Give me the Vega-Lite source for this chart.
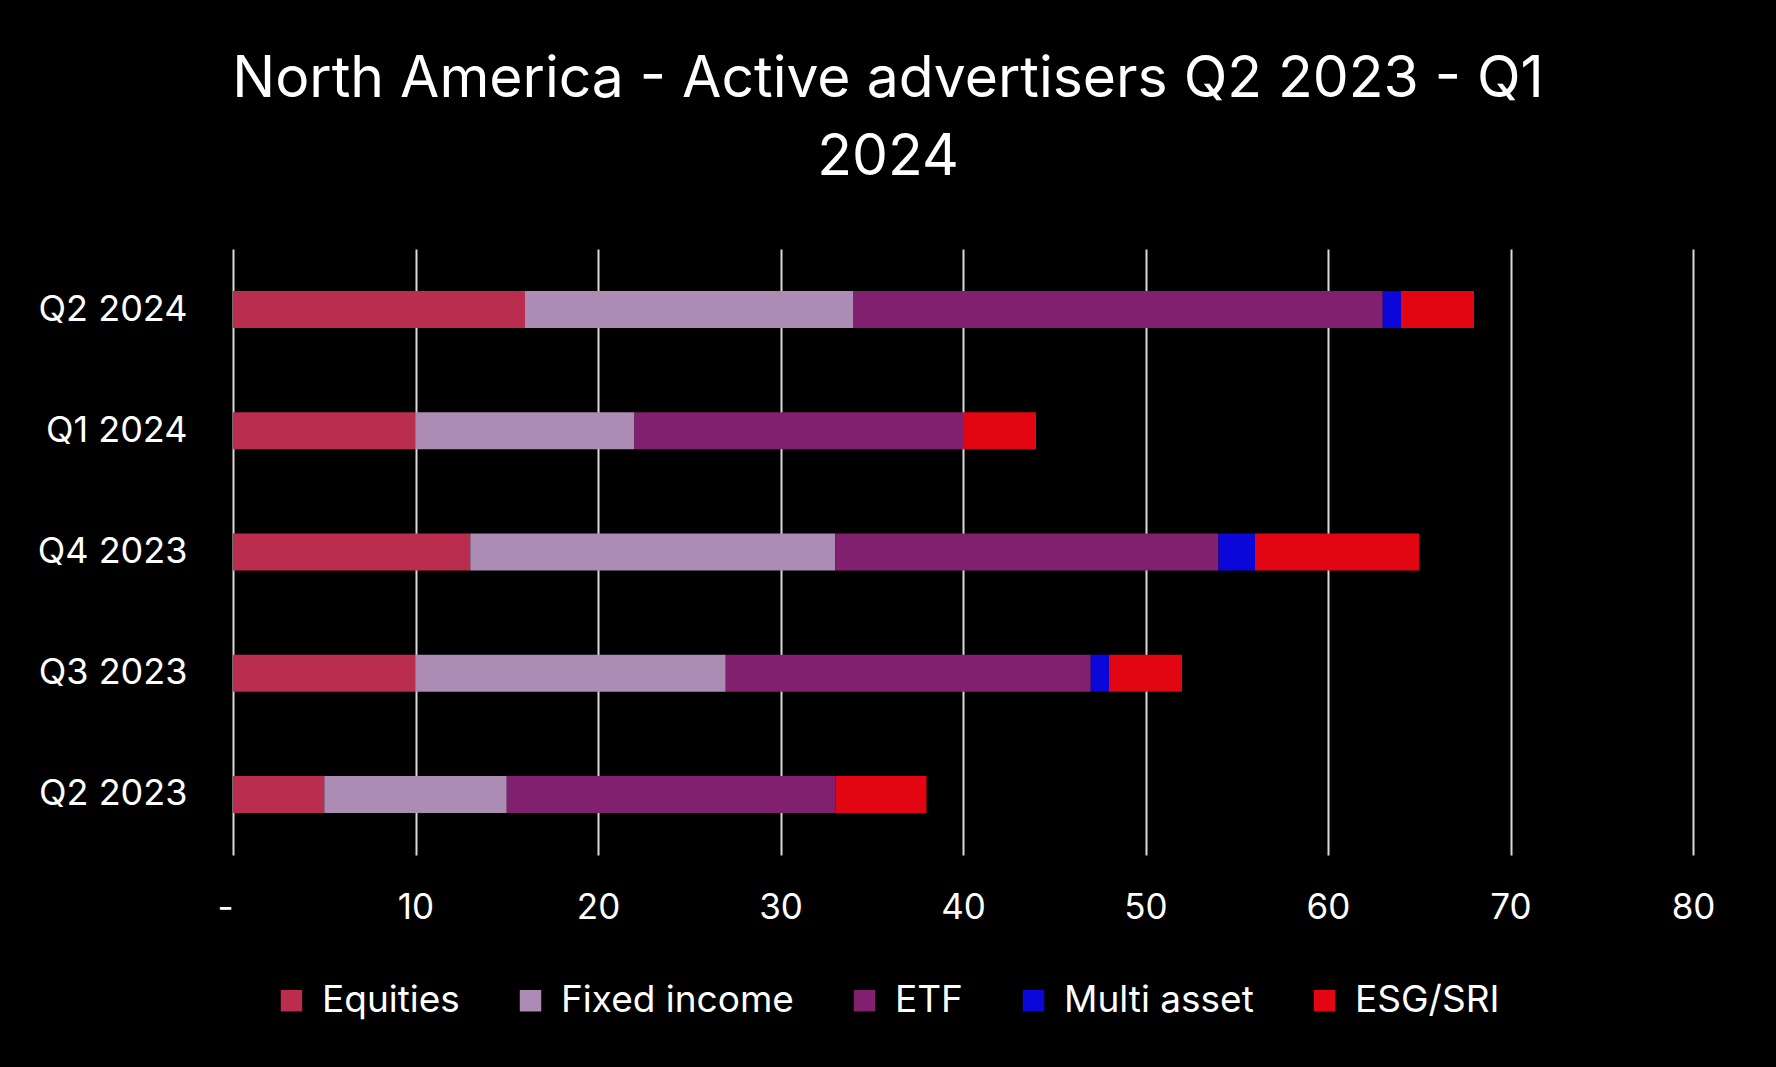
{
  "$schema": "https://vega.github.io/schema/vega-lite/v6.json",
  "width": 1460,
  "height": 606,
  "autosize": "none",
  "padding": {"left": 233, "top": 249, "right": 83, "bottom": 212},
  "background": "#000000",
  "title": {
    "text": ["North America - Active advertisers Q2 2023 - Q1", "2024"],
    "color": "#ffffff",
    "font": "Inter",
    "fontSize": 57,
    "fontWeight": "normal",
    "lineHeight": 78,
    "anchor": "middle",
    "frame": "group",
    "dx": -75,
    "offset": 62
  },
  "data": {
    "values": [
      {"quarter": "Q2 2024", "asset": "Equities", "k": 1, "value": 16},
      {"quarter": "Q2 2024", "asset": "Fixed income", "k": 2, "value": 18},
      {"quarter": "Q2 2024", "asset": "ETF", "k": 3, "value": 29},
      {"quarter": "Q2 2024", "asset": "Multi asset", "k": 4, "value": 1},
      {"quarter": "Q2 2024", "asset": "ESG/SRI", "k": 5, "value": 4},
      {"quarter": "Q1 2024", "asset": "Equities", "k": 1, "value": 10},
      {"quarter": "Q1 2024", "asset": "Fixed income", "k": 2, "value": 12},
      {"quarter": "Q1 2024", "asset": "ETF", "k": 3, "value": 18},
      {"quarter": "Q1 2024", "asset": "Multi asset", "k": 4, "value": 0},
      {"quarter": "Q1 2024", "asset": "ESG/SRI", "k": 5, "value": 4},
      {"quarter": "Q4 2023", "asset": "Equities", "k": 1, "value": 13},
      {"quarter": "Q4 2023", "asset": "Fixed income", "k": 2, "value": 20},
      {"quarter": "Q4 2023", "asset": "ETF", "k": 3, "value": 21},
      {"quarter": "Q4 2023", "asset": "Multi asset", "k": 4, "value": 2},
      {"quarter": "Q4 2023", "asset": "ESG/SRI", "k": 5, "value": 9},
      {"quarter": "Q3 2023", "asset": "Equities", "k": 1, "value": 10},
      {"quarter": "Q3 2023", "asset": "Fixed income", "k": 2, "value": 17},
      {"quarter": "Q3 2023", "asset": "ETF", "k": 3, "value": 20},
      {"quarter": "Q3 2023", "asset": "Multi asset", "k": 4, "value": 1},
      {"quarter": "Q3 2023", "asset": "ESG/SRI", "k": 5, "value": 4},
      {"quarter": "Q2 2023", "asset": "Equities", "k": 1, "value": 5},
      {"quarter": "Q2 2023", "asset": "Fixed income", "k": 2, "value": 10},
      {"quarter": "Q2 2023", "asset": "ETF", "k": 3, "value": 18},
      {"quarter": "Q2 2023", "asset": "Multi asset", "k": 4, "value": 0},
      {"quarter": "Q2 2023", "asset": "ESG/SRI", "k": 5, "value": 5}
    ]
  },
  "mark": {"type": "bar"},
  "encoding": {
    "y": {
      "field": "quarter",
      "type": "nominal",
      "sort": ["Q2 2024", "Q1 2024", "Q4 2023", "Q3 2023", "Q2 2023"],
      "scale": {"paddingInner": 0.695, "paddingOuter": 0.3475},
      "axis": {
        "title": null,
        "domain": false,
        "ticks": false,
        "grid": false,
        "labelColor": "#ffffff",
        "labelFont": "Inter",
        "labelFontSize": 36,
        "labelPadding": 46,
        "labelLimit": 0
      }
    },
    "x": {
      "field": "value",
      "type": "quantitative",
      "stack": "zero",
      "scale": {"domain": [0, 80], "nice": false},
      "axis": {
        "title": null,
        "values": [0, 10, 20, 30, 40, 50, 60, 70, 80],
        "labelExpr": "datum.value == 0 ? '-' : datum.label",
        "labelAlign": {"condition": {"test": "datum.value == 0", "value": "right"}, "value": "center"},
        "domain": false,
        "ticks": false,
        "grid": true,
        "gridColor": "#d9d9d9",
        "gridWidth": 2,
        "labelColor": "#ffffff",
        "labelFont": "Inter",
        "labelFontSize": 35,
        "labelPadding": 35,
        "labelFlush": false
      }
    },
    "color": {
      "field": "asset",
      "type": "nominal",
      "scale": {
        "domain": ["Equities", "Fixed income", "ETF", "Multi asset", "ESG/SRI"],
        "range": ["#BA2D4E", "#AC8BB5", "#80206E", "#0A07D8", "#E20613"]
      },
      "legend": {
        "title": null,
        "orient": "none",
        "direction": "horizontal",
        "legendX": 40,
        "legendY": 733,
        "symbolType": "square",
        "symbolSize": 460,
        "symbolStrokeWidth": 0,
        "labelColor": "#ffffff",
        "labelFont": "Inter",
        "labelFontSize": 37,
        "labelOffset": 12,
        "labelLimit": 0,
        "columnPadding": 52
      }
    },
    "order": {"field": "k", "type": "quantitative"}
  },
  "config": {
    "view": {"stroke": null}
  }
}
